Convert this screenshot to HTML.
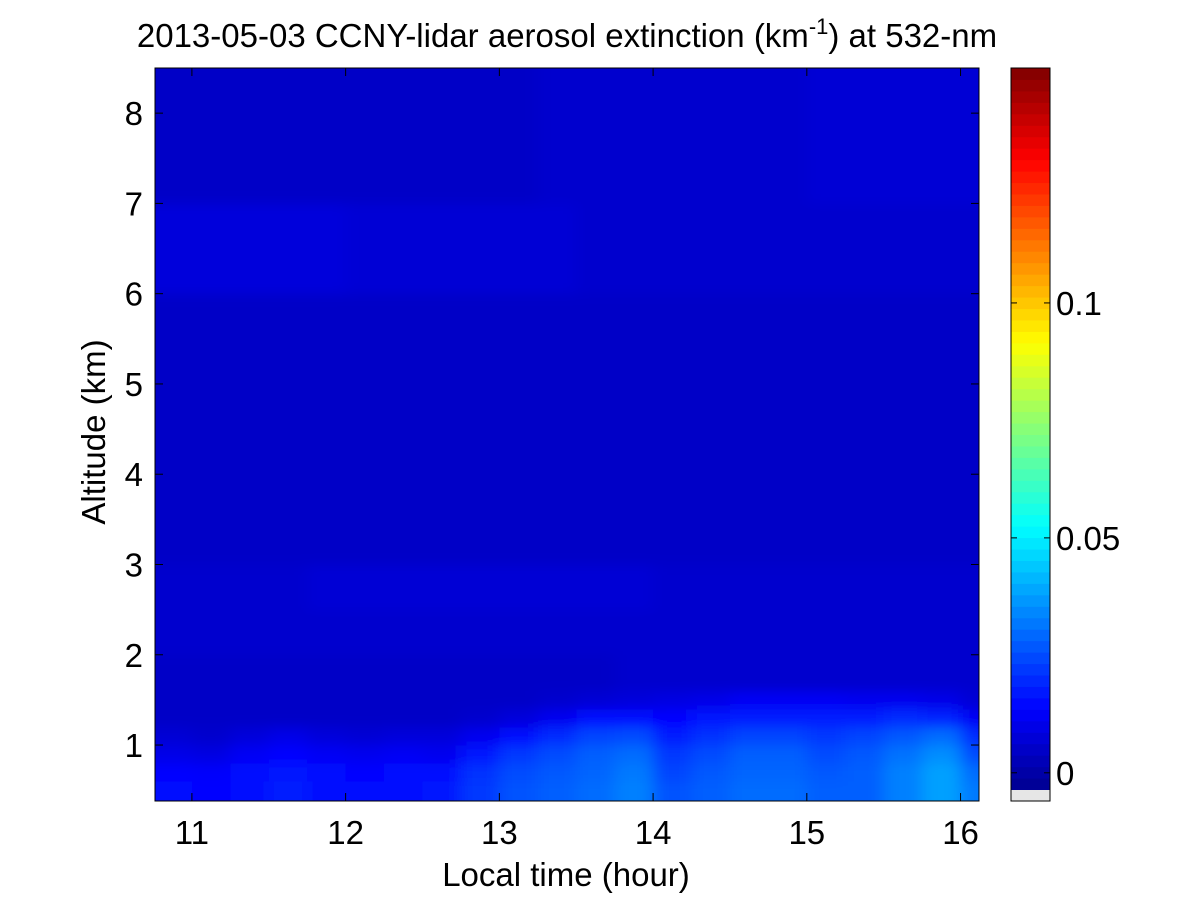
<!DOCTYPE html>
<html><head><meta charset="utf-8"><style>
body{margin:0;background:#fff;}
svg{display:block;font-family:"Liberation Sans",Arial,sans-serif;}
</style></head><body>
<svg id="c" width="1200" height="900"></svg>
<script>
const times=[10.75,11.0,11.25,11.5,11.75,12.0,12.25,12.5,12.75,13.0,13.25,13.5,13.75,14.0,14.25,14.5,14.75,15.0,15.25,15.5,15.75,16.0];
const altEdges=[0.38,0.6,0.8,1.0,1.2,1.4,1.6,2.0,2.5,3.0,4.0,5.0,6.0,7.0,8.5];
// extinction x1e-3 km^-1, rows bottom-up
const values=[
[16,14,16,18,16,15,16,17,22,26,28,30,33,26,28,30,30,28,28,33,38,32],
[14,13,15,17,15,14,15,15,21,25,27,29,32,24,27,29,29,27,28,33,38,30],
[10,9,12,14,12,11,12,11,17,22,25,28,30,22,25,28,28,25,27,31,35,25],
[7,6,8,10,8,7,8,8,11,16,20,24,25,18,21,24,24,22,24,27,30,20],
[5,5,5,5,5,5,5,5,6,8,11,15,16,14,17,18,18,18,18,20,19,12],
[5,5,5,5,5,5,5,5,5,5,6,7,8,9,10,12,12,12,11,11,10,7],
[5,5,5,5,5,5,5,5,5,5,5,5,6,6,6,6,6,6,6,6,6,6],
[6,6,6,6,6,6,6,6,6,6,6,6,6,6,6,6,6,6,6,6,6,6],
[6,6,6,6,7,7,7,7,7,7,7,7,7,6,6,6,6,6,6,6,6,6],
[5,5,5,5,5,5,5,5,5,5,5,5,5,5,5,5,5,5,5,5,5,5],
[5,5,5,5,5,5,5,5,5,5,5,5,5,5,5,5,5,5,5,5,5,5],
[5,5,5,5,5,5,5,5,5,5,5,5,5,5,5,5,5,5,5,5,5,5],
[8,8,8,8,8,7,7,7,7,7,7,6,6,6,6,6,6,6,6,6,6,6],
[5,5,5,5,5,5,5,5,5,5,6,6,6,6,6,6,6,7,7,7,7,7]];
const xTicks=[11,12,13,14,15,16];
const yTicks=[1,2,3,4,5,6,7,8];
const cbTicks=[0,0.05,0.1];
const cbTickLabels=["0","0.05","0.1"];

const NS="http://www.w3.org/2000/svg";
const svg=document.getElementById('c');
function mk(t,a,p){const e=document.createElementNS(NS,t);for(const k in a)e.setAttribute(k,a[k]);(p||svg).appendChild(e);return e;}
const L=155,R=979,T=68,B=801;
const X0=10.76,X1=16.12,Y0=0.38,Y1=8.5;
const xs=v=>L+(v-X0)/(X1-X0)*(R-L);
const ys=v=>B-(v-Y0)/(Y1-Y0)*(B-T);
const CMIN=-0.006,CMAX=0.15;
function jet(t){t=Math.max(0,Math.min(1,t));
 const r=Math.max(0,Math.min(1,1.5-Math.abs(4*t-3))),g=Math.max(0,Math.min(1,1.5-Math.abs(4*t-2))),b=Math.max(0,Math.min(1,1.5-Math.abs(4*t-1)));
 return `rgb(${Math.round(r*255)},${Math.round(g*255)},${Math.round(b*255)})`;}
const col=v=>jet((v-CMIN)/(CMAX-CMIN));

const defs=mk('defs',{});
const cp=mk('clipPath',{id:'pc'},defs);mk('rect',{x:L,y:T,width:R-L,height:B-T},cp);
const f=mk('filter',{id:'bl',x:'-5%',y:'-5%',width:'110%',height:'110%'},defs);
mk('feGaussianBlur',{stdDeviation:'8 6'},f);
const clipG=mk('g',{'clip-path':'url(#pc)'});
mk('rect',{x:L,y:T,width:R-L,height:B-T,fill:col(0.005)},clipG);
const heat=mk('g',{filter:'url(#bl)'},clipG);


for(let r=0;r<values.length;r++)for(let c=0;c<times.length;c++){
 const x0=xs(times[c]),x1=c+1<times.length?xs(times[c+1]):xs(times[c]+0.25)+20;
 const yA=ys(altEdges[r+1]),yB=ys(altEdges[r]);
 const e=mk('rect',{x:(c==0?x0-20:x0),y:(r==values.length-1?yA-20:yA),width:x1-(c==0?x0-20:x0)+0.5,height:yB-yA+(r==0?20:0)+(r==values.length-1?20:0)+0.5,fill:col(values[r][c]/1000)},heat);
 
 
}
const ax=mk('rect',{x:L,y:T,width:R-L,height:B-T,fill:'none',stroke:'#000','stroke-width':1});

xTicks.forEach(v=>{const x=xs(v);
 mk('line',{x1:x,x2:x,y1:B,y2:B-8,stroke:'#000'});mk('line',{x1:x,x2:x,y1:T,y2:T+8,stroke:'#000'});
 const t=mk('text',{x:x,y:B+43,'font-size':33,'text-anchor':'middle'});t.textContent=v;
 });
yTicks.forEach(v=>{const y=ys(v);
 mk('line',{x1:L,x2:L+8,y1:y,y2:y,stroke:'#000'});mk('line',{x1:R,x2:R-8,y1:y,y2:y,stroke:'#000'});
 const t=mk('text',{x:L-12,y:y+12,'font-size':33,'text-anchor':'end'});t.textContent=v;
 });
// colorbar
const CL=1011,CR=1050,CT=68,CB=801;
const cs=v=>CB-(v-CMIN)/(CMAX-CMIN)*(CB-CT);
const cbg=mk('g',{});
const N=64;for(let i=0;i<N;i++){const v0=CMIN+(CMAX-CMIN)*i/N,v1=CMIN+(CMAX-CMIN)*(i+1)/N;
 mk('rect',{x:CL,y:cs(v1),width:CR-CL,height:cs(v0)-cs(v1)+0.5,fill:jet((i+0.5)/N)},cbg);}
mk('rect',{x:CL,y:790,width:CR-CL,height:CB-790,fill:'#e6e6e6'},cbg);
mk('rect',{x:CL,y:CT,width:CR-CL,height:CB-CT,fill:'none',stroke:'#000'},cbg);
cbTicks.forEach((v,i)=>{const y=cs(v);
 mk('line',{x1:CL,x2:CL+6,y1:y,y2:y,stroke:'#000'},cbg);mk('line',{x1:CR,x2:CR-6,y1:y,y2:y,stroke:'#000'},cbg);
 const t=mk('text',{x:CR+6,y:y+12,'font-size':33},cbg);t.textContent=cbTickLabels[i];
 });
</script>
<svg style="position:absolute;left:0;top:0" width="1200" height="900">
<text x="567" y="47" font-size="33" text-anchor="middle" font-family="Liberation Sans, sans-serif">2013-05-03 CCNY-lidar aerosol extinction (km<tspan dy="-13" font-size="22">-1</tspan><tspan dy="13">) at 532-nm</tspan></text>
<text x="566" y="886" font-size="33" text-anchor="middle" font-family="Liberation Sans, sans-serif">Local time (hour)</text>
<text transform="translate(105,432) rotate(-90)" font-size="33" text-anchor="middle" font-family="Liberation Sans, sans-serif">Altitude (km)</text>
</svg>
</body></html>
